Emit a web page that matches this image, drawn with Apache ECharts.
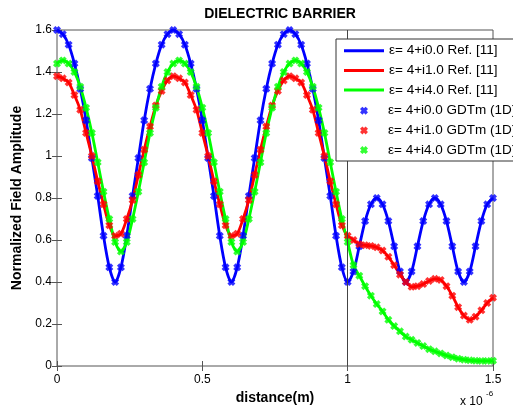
<!DOCTYPE html>
<html>
<head>
<meta charset="utf-8">
<script src="https://cdn.jsdelivr.net/npm/echarts@6/dist/echarts.min.js"></script>
<style>
  html, body { margin: 0; padding: 0; background: #fff; }
  #main { width: 513px; height: 411px; }
</style>
</head>
<body>
<div id="main"></div>
<script>
// distance in micrometres (axis shows x 10^-6 m)
var distUm = [
  0.00,0.02,0.04,0.06,0.08,0.10,0.12,0.14,0.16,0.18,
  0.20,0.22,0.24,0.26,0.28,0.30,0.32,0.34,0.36,0.38,
  0.40,0.42,0.44,0.46,0.48,0.50,0.52,0.54,0.56,0.58,
  0.60,0.62,0.64,0.66,0.68,0.70,0.72,0.74,0.76,0.78,
  0.80,0.82,0.84,0.86,0.88,0.90,0.92,0.94,0.96,0.98,
  1.00,
  1.02,1.04,1.06,1.08,1.10,1.12,1.14,1.16,1.18,1.20,
  1.22,1.24,1.26,1.28,1.30,1.32,1.34,1.36,1.38,1.40,
  1.42,1.44,1.46,1.48,1.50
];

// eps = 4 + i0.0
var ampEps0 = [
  1.60,1.58,1.53,1.44,1.32,1.17,0.99,0.81,0.62,0.47,
  0.40,0.47,0.62,0.81,0.99,1.17,1.32,1.44,1.53,1.58,
  1.60,1.58,1.53,1.44,1.32,1.17,0.99,0.81,0.62,0.47,
  0.40,0.47,0.62,0.81,0.99,1.17,1.32,1.44,1.53,1.58,
  1.60,1.58,1.53,1.44,1.32,1.17,0.99,0.81,0.62,0.47,
  0.40,
  0.45,0.57,0.69,0.77,0.80,0.77,0.69,0.57,0.45,0.40,
  0.45,0.57,0.69,0.77,0.80,0.77,0.69,0.57,0.45,0.40,
  0.45,0.57,0.69,0.77,0.80
];

// eps = 4 + i1.0
var ampEps1 = [
  1.38,1.37,1.35,1.29,1.22,1.11,1.00,0.88,0.77,0.67,
  0.62,0.63,0.70,0.79,0.91,1.03,1.14,1.24,1.31,1.36,
  1.38,1.37,1.35,1.29,1.22,1.11,1.00,0.88,0.77,0.67,
  0.62,0.63,0.70,0.79,0.91,1.03,1.14,1.24,1.31,1.36,
  1.38,1.37,1.35,1.29,1.22,1.11,1.00,0.88,0.77,0.67,
  0.62,
  0.60,0.58,0.575,0.572,0.565,0.55,0.52,0.48,0.435,0.40,
  0.377,0.38,0.39,0.405,0.415,0.41,0.38,0.335,0.28,0.24,
  0.22,0.235,0.265,0.30,0.325
];

// eps = 4 + i4.0
var ampEps4 = [
  1.44,1.455,1.44,1.40,1.33,1.23,1.11,0.97,0.83,0.70,
  0.59,0.545,0.59,0.70,0.83,0.97,1.11,1.23,1.33,1.40,
  1.44,1.455,1.44,1.40,1.33,1.23,1.11,0.97,0.83,0.70,
  0.59,0.545,0.59,0.70,0.83,0.97,1.11,1.23,1.33,1.40,
  1.44,1.455,1.44,1.40,1.33,1.23,1.11,0.97,0.83,0.70,
  0.59,
  0.48,0.43,0.38,0.335,0.295,0.26,0.22,0.19,0.165,0.14,
  0.125,0.11,0.095,0.08,0.07,0.06,0.05,0.042,0.035,0.03,
  0.027,0.025,0.024,0.024,0.025
];

var refNames = ['ε= 4+i0.0 Ref. [11]', 'ε= 4+i1.0 Ref. [11]', 'ε= 4+i4.0 Ref. [11]'];
var simNames = ['ε= 4+i0.0 GDTm (1D)', 'ε= 4+i1.0 GDTm (1D)', 'ε= 4+i4.0 GDTm (1D)'];
var colors = ['#0000ff', '#ff0000', '#00ff00'];
var barrierStart = 1.0;

var FONT = 'Liberation Sans, Arial, sans-serif';
var crossPath = 'path://M0,3L3,0L5,2L7,0L10,3L8,5L10,7L7,10L5,8L3,10L0,7L2,5Z';

function pairs(ys) {
  return distUm.map(function (x, i) { return [x, ys[i]]; });
}
var allAmp = [ampEps0, ampEps1, ampEps4];

var series = [];
allAmp.forEach(function (ys, k) {
  var s = {
    name: refNames[k],
    type: 'line',
    data: pairs(ys),
    showSymbol: false,
    smooth: 0.3,
    lineStyle: { width: 2.8, color: colors[k] },
    itemStyle: { color: colors[k] },
    z: 2
  };
  if (k === 0) {
    s.markLine = {
      silent: true,
      symbol: 'none',
      label: { show: false },
      lineStyle: { color: '#444', width: 1, type: 'solid' },
      data: [{ xAxis: barrierStart }]
    };
  }
  series.push(s);
});
allAmp.forEach(function (ys, k) {
  series.push({
    name: simNames[k],
    type: 'scatter',
    data: pairs(ys),
    symbol: crossPath,
    symbolSize: 8,
    itemStyle: { color: colors[k] },
    z: 3
  });
});

var myChart = echarts.init(document.getElementById('main'));
var option = {
  animation: false,
  backgroundColor: '#fff',
  title: {
    text: 'DIELECTRIC BARRIER',
    left: 275,
    textAlign: 'center',
    top: 2,
    textStyle: { fontFamily: FONT, fontSize: 14, fontWeight: 'bold', color: '#000' }
  },
  grid: {
    left: 57, top: 30, width: 436, height: 336,
    show: true, borderColor: '#555', borderWidth: 1, backgroundColor: '#fff'
  },
  xAxis: [{
    type: 'value', min: 0, max: 1.5, interval: 0.5, position: 'bottom',
    axisLine: { show: false },
    axisTick: { inside: true, length: 5, lineStyle: { color: '#555' } },
    axisLabel: { color: '#000', fontFamily: FONT, fontSize: 12, margin: 8 },
    splitLine: { show: false },
    name: 'distance(m)', nameLocation: 'middle', nameGap: 23,
    nameTextStyle: { fontFamily: FONT, fontSize: 14, fontWeight: 'bold', color: '#000' }
  }, {
    type: 'value', min: 0, max: 1.5, interval: 0.5, position: 'top',
    axisLine: { show: false },
    axisTick: { inside: true, length: 5, lineStyle: { color: '#555' } },
    axisLabel: { show: false },
    splitLine: { show: false }
  }],
  yAxis: [{
    type: 'value', min: 0, max: 1.6, interval: 0.2, position: 'left',
    axisLine: { show: false },
    axisTick: { inside: true, length: 5, lineStyle: { color: '#555' } },
    axisLabel: {
      color: '#000', fontFamily: FONT, fontSize: 12, margin: 5,
      formatter: function (v) { return String(+v.toFixed(1)); }
    },
    splitLine: { show: false },
    name: 'Normalized Field Amplitude', nameLocation: 'middle', nameGap: 26,
    nameTextStyle: { fontFamily: FONT, fontSize: 14, fontWeight: 'bold', color: '#000' }
  }, {
    type: 'value', min: 0, max: 1.6, interval: 0.2, position: 'right',
    axisLine: { show: false },
    axisTick: { inside: true, length: 5, lineStyle: { color: '#555' } },
    axisLabel: { show: false },
    splitLine: { show: false }
  }],
  legend: [{
    data: refNames,
    orient: 'vertical',
    left: 344, top: 42.7,
    padding: 0,
    itemGap: 3.7,
    itemWidth: 40, itemHeight: 3,
    icon: 'rect',
    z: 20,
    textStyle: { fontFamily: FONT, fontSize: 13.5, color: '#000', lineHeight: 16 }
  }, {
    data: simNames,
    orient: 'vertical',
    left: 360, top: 102.7,
    padding: 0,
    itemGap: 3.7,
    itemWidth: 8, itemHeight: 8,
    icon: crossPath,
    z: 20,
    textStyle: { fontFamily: FONT, fontSize: 13.5, color: '#000', lineHeight: 16, padding: [0, 0, 0, 15] }
  }],
  graphic: [{
    type: 'rect',
    z: 15,
    shape: { x: 336, y: 39, width: 200, height: 122 },
    style: { fill: '#fff', stroke: '#333', lineWidth: 1 }
  }, {
    type: 'text', x: 460, y: 402, z: 15,
    style: { text: 'x 10', font: '12px ' + FONT, fill: '#000', verticalAlign: 'middle' }
  }, {
    type: 'text', x: 486, y: 394, z: 15,
    style: { text: '-6', font: '8px ' + FONT, fill: '#000', verticalAlign: 'middle' }
  }],
  series: series
};
myChart.setOption(option);
</script>
</body>
</html>
